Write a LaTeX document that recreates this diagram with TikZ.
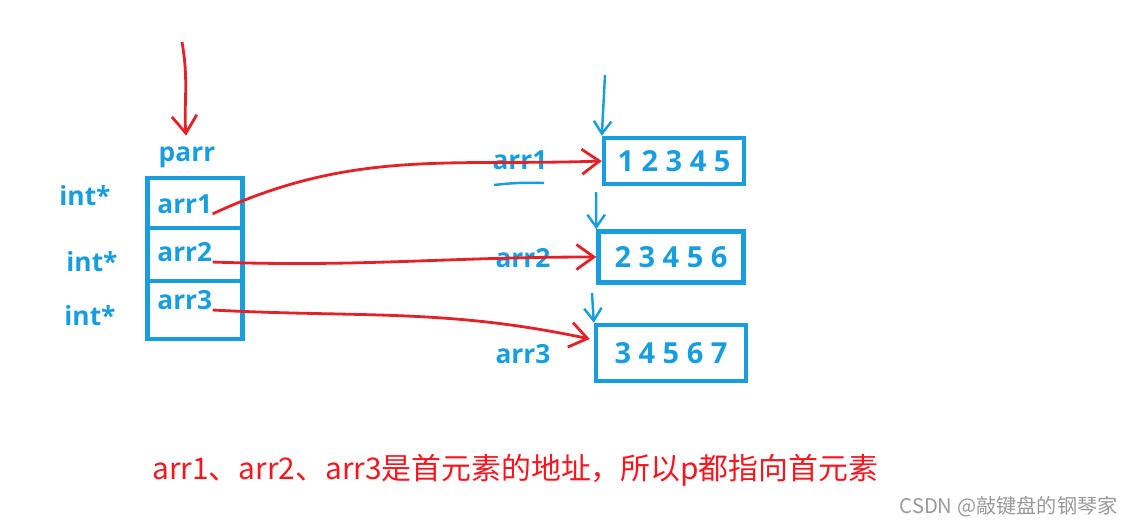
\documentclass[tikz,border=0pt]{standalone}
\usepackage{fontspec}
\setsansfont{Open Sans}
\newfontfamily\cjk{Noto Sans CJK SC}
\usetikzlibrary{arrows.meta,positioning,calc}
\definecolor{penblue}{RGB}{24,158,222}
\definecolor{penred}{RGB}{226,34,40}
\definecolor{notered}{RGB}{246,22,32}

\begin{document}
\begin{tikzpicture}[
    x=0.02cm, y=-0.02cm,
    slot/.style={rectangle, draw=penblue, line width=2.5pt, minimum width=1.9cm, outer sep=0pt},
    arrbox/.style={rectangle, draw=penblue, line width=2.5pt, text=penblue, font=\sffamily\bfseries\fontsize{16.5}{19}\selectfont},
    lbl/.style={text=penblue, inner sep=0pt, font=\sffamily\bfseries\fontsize{15}{18}\selectfont},
    redarrow/.style={-{Straight Barb[length=3.5mm,width=5mm]}, draw=penred, line width=1.6pt},
    bluearrow/.style={-{Straight Barb[length=2.5mm,width=3.5mm]}, draw=penblue, line width=1.4pt}
]
    \useasboundingbox (0,0) rectangle (1133,524);

    % pointer array parr
    \node[slot, minimum height=1.0cm] (slot1) at (195,203) {};
    \node[slot, minimum height=1.06cm, below=0pt of slot1] (slot2) {};
    \node[slot, minimum height=1.16cm, below=0pt of slot2] (slot3) {};
    \node[lbl] (parr) at (187,157) {parr};
    \node[lbl, anchor=west] (lab1) at (157,204) {arr1};
    \node[lbl, anchor=west] (lab2) at (157,252) {arr2};
    \node[lbl, anchor=west] (lab3) at (157,300) {arr3};
    \node[lbl] (ptr1) at (85,196) {int*};
    \node[lbl] (ptr2) at (92,262) {int*};
    \node[lbl] (ptr3) at (90,316) {int*};

    % the three arrays
    \node[arrbox, minimum width=2.8cm, minimum height=0.92cm] (box1) at (674,161) {1 2 3 4 5};
    \node[arrbox, minimum width=2.9cm, minimum height=1.02cm] (box2) at (671,257) {2 3 4 5 6};
    \node[arrbox, minimum width=3.0cm, minimum height=1.12cm] (box3) at (671,353) {3 4 5 6 7};
    \node[lbl] (name1) at (520,160) {arr1};
    \node[lbl] (name2) at (523,258) {arr2};
    \node[lbl] (name3) at (523,354) {arr3};
    \draw[penblue, line width=1.4pt] (494,185) to[bend left=4] (544,183);

    \coordinate (ptop) at (182,42);
    \coordinate (b1top) at (605,75);
    \coordinate (b2top) at (596,192);
    \coordinate (b3top) at (592,293);

    \draw[redarrow, shorten >=6pt] (ptop) to[out=-80,in=95] (parr.north);
    \draw[bluearrow] (b1top) -- (box1.north west);
    \draw[bluearrow] (b2top) -- (box2.north west);
    \draw[bluearrow] (b3top) -- (box3.north west);

    \draw[redarrow] (lab1.south east) to[out=25,in=182] (box1.west);
    \draw[redarrow] (lab2.south east) to[out=-2,in=180] (box2.west);
    \draw[redarrow] (lab3.south east) to[out=-3,in=168] ($(box3.west)+(-4,-14)$);

    \node[anchor=west, inner sep=0pt, text=notered, font=\cjk\fontsize{17}{20}\selectfont] (note) at (152,470) {arr1、arr2、arr3是首元素的地址，所以p都指向首元素};
    \node[anchor=east, inner sep=0pt, text=black!40, font=\cjk\fontsize{11.5}{14}\selectfont] (mark) at (1118,507) {CSDN @敲键盘的钢琴家};
\end{tikzpicture}
\end{document}
